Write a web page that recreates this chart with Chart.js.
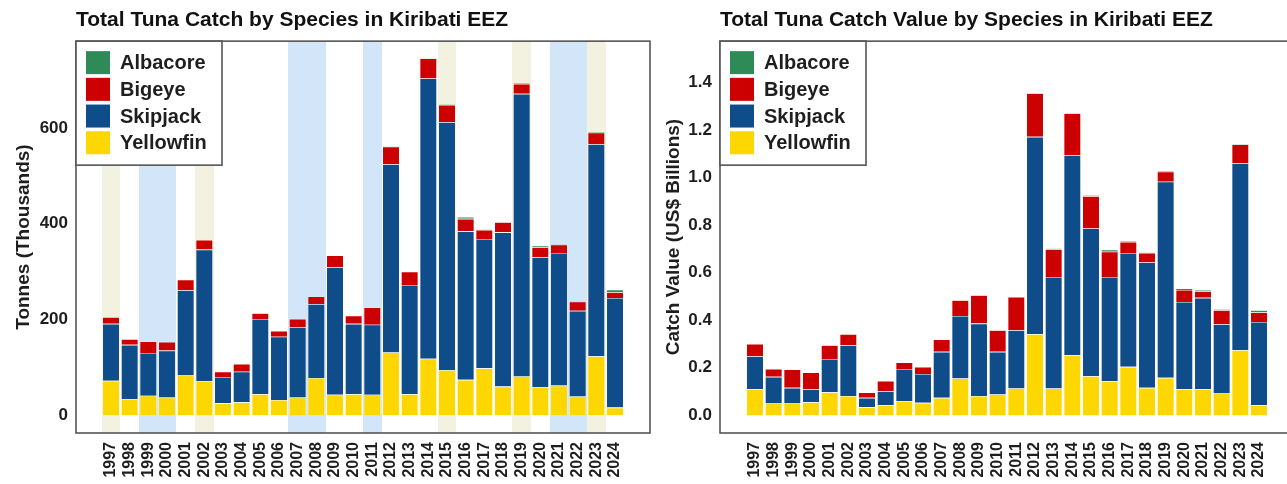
<!DOCTYPE html>
<html>
<head>
<meta charset="utf-8">
<script src="https://cdn.jsdelivr.net/npm/chart.js@4.4.1/dist/chart.umd.min.js"></script>
<style>
  html, body { margin: 0; padding: 0; background: #ffffff; overflow: hidden; width: 1287px; height: 484px; }
  canvas { position: absolute; top: 0; }
  #catchChart { left: 0; }
  #valueChart { left: 644px; }
</style>
</head>
<body>
<canvas id="catchChart" width="660" height="484"></canvas>
<canvas id="valueChart" width="660" height="484"></canvas>
<script>
// ---- data ----
const years = [1997, 1998, 1999, 2000, 2001, 2002, 2003, 2004, 2005, 2006, 2007, 2008, 2009, 2010,
               2011, 2012, 2013, 2014, 2015, 2016, 2017, 2018, 2019, 2020, 2021, 2022, 2023, 2024];

// Catch, thousand tonnes
const catchYellowfin = [72, 34, 41, 37, 83, 71, 25, 27, 44, 32, 37, 78, 43, 44,
                        43, 131, 44, 118, 94, 74, 98, 60, 81, 59, 62, 39, 123, 16];
const catchSkipjack  = [119, 113, 89, 98, 178, 275, 55, 64, 157, 132, 147, 154, 266, 147,
                        146, 393, 228, 585, 518, 310, 270, 322, 590, 271, 277, 179, 443, 229];
const catchBigeye    = [14, 12, 24, 18, 22, 20, 11, 16, 12, 12, 17, 16, 25, 17,
                        36, 37, 28, 42, 36, 26, 19, 21, 21, 21, 17, 19, 24, 12];
const catchAlbacore  = [0, 0, 0, 0, 0, 0, 0, 0, 0, 0, 0, 0, 0, 0,
                        0, 1, 0, 1, 2, 4, 1, 1, 2, 3, 1, 1, 2, 5];

// Catch value, US$ billions
const valueYellowfin = [0.110, 0.050, 0.050, 0.055, 0.097, 0.082, 0.034, 0.043, 0.061, 0.053, 0.074, 0.155, 0.082, 0.088,
                        0.113, 0.342, 0.113, 0.253, 0.165, 0.144, 0.204, 0.116, 0.158, 0.110, 0.110, 0.092, 0.274, 0.043];
const valueSkipjack  = [0.139, 0.112, 0.066, 0.055, 0.140, 0.213, 0.040, 0.059, 0.134, 0.121, 0.193, 0.263, 0.304, 0.179,
                        0.245, 0.829, 0.469, 0.841, 0.621, 0.438, 0.479, 0.527, 0.824, 0.367, 0.384, 0.292, 0.785, 0.350];
const valueBigeye    = [0.051, 0.033, 0.077, 0.071, 0.058, 0.047, 0.023, 0.043, 0.028, 0.030, 0.052, 0.066, 0.119, 0.091,
                        0.140, 0.182, 0.117, 0.175, 0.135, 0.106, 0.046, 0.040, 0.042, 0.050, 0.028, 0.058, 0.080, 0.040];
const valueAlbacore  = [0, 0, 0, 0, 0, 0, 0, 0, 0, 0, 0, 0, 0, 0,
                        0, 0.004, 0.002, 0.003, 0.005, 0.009, 0.003, 0.002, 0.004, 0.007, 0.005, 0.005, 0.004, 0.009];

// Shaded year bands (catch chart only)
const warmPhaseYears = [1997, 2002, 2015, 2019, 2023];
const coolPhaseYears = [1999, 2000, 2007, 2008, 2011, 2021, 2022];

const catchTicks = [0, 200, 400, 600];
const valueTicks = [0, 0.2, 0.4, 0.6, 0.8, 1.0, 1.2, 1.4];

// ---- styling ----
const FONT = "'Liberation Sans', Arial, Helvetica, sans-serif";
const TEXT = '#1e1e1e';
const FRAME = '#555555';
const COLORS = {
  Yellowfin: '#ffd700',
  Skipjack: '#0f4c8a',
  Bigeye: '#cc0000',
  Albacore: '#2e8b57'
};
Chart.defaults.font.family = FONT;
Chart.defaults.color = TEXT;

function series(label, values) {
  return {
    label,
    data: years.map((y, i) => ({ x: y, y: values[i] })),
    backgroundColor: COLORS[label],
    borderColor: 'rgba(255,255,255,0.55)',
    borderWidth: 0.6,
    categoryPercentage: 1.0,
    barPercentage: 0.92
  };
}

// group consecutive years into [first, last] runs
function runsOf(list) {
  const sorted = list.slice().sort((a, b) => a - b);
  const runs = [];
  sorted.forEach(y => {
    const last = runs[runs.length - 1];
    if (last && y === last[1] + 1) last[1] = y;
    else runs.push([y, y]);
  });
  return runs;
}

// background bands behind the bars
function bandsPlugin(bands) {
  return {
    id: 'yearBands',
    beforeDatasetsDraw(chart) {
      const { ctx, chartArea: ca, scales: { x } } = chart;
      ctx.save();
      bands.forEach(b => {
        ctx.fillStyle = b.color;
        runsOf(b.years).forEach(([y0, y1]) => {
          const x0 = Math.round(x.getPixelForValue(y0 - 0.5));
          const x1 = Math.round(x.getPixelForValue(y1 + 0.5));
          ctx.fillRect(x0, ca.top, x1 - x0, ca.bottom - ca.top);
        });
      });
      ctx.restore();
    }
  };
}

// panel frame + boxed legend in the top-left corner
const framePlugin = {
  id: 'panelFrame',
  afterDatasetsDraw(chart) {
    const { ctx, chartArea: ca } = chart;
    ctx.save();
    ctx.strokeStyle = FRAME;
    ctx.lineWidth = 1.6;
    ctx.strokeRect(ca.left, ca.top, ca.right - ca.left, ca.bottom - ca.top);
    ctx.restore();
  },
  afterDraw(chart) {
    const { ctx, chartArea: ca } = chart;
    const lx = ca.left, ly = ca.top, w = 146, h = 124;
    ctx.save();
    ctx.fillStyle = '#ffffff';
    ctx.fillRect(lx, ly, w, h);
    ctx.strokeStyle = FRAME;
    ctx.lineWidth = 1.6;
    ctx.strokeRect(lx, ly, w, h);
    const items = chart.data.datasets.slice().reverse();
    ctx.font = 'bold 20px ' + FONT;
    ctx.textBaseline = 'middle';
    ctx.textAlign = 'left';
    items.forEach((ds, i) => {
      const top = ly + 10 + i * 26.7;
      ctx.fillStyle = ds.backgroundColor;
      ctx.fillRect(lx + 10, top, 24, 23);
      ctx.fillStyle = TEXT;
      ctx.fillText(ds.label, lx + 44, top + 12.5);
    });
    ctx.restore();
  }
};

function makeChart(canvasId, cfg) {
  return new Chart(document.getElementById(canvasId), {
    type: 'bar',
    data: {
      datasets: [
        series('Yellowfin', cfg.yellowfin),
        series('Skipjack', cfg.skipjack),
        series('Bigeye', cfg.bigeye),
        series('Albacore', cfg.albacore)
      ]
    },
    options: {
      responsive: false,
      devicePixelRatio: 1,
      animation: false,
      layout: { padding: { left: 0, right: 10, top: 0, bottom: 0 } },
      plugins: {
        legend: { display: false },
        tooltip: { enabled: false },
        title: {
          display: true,
          text: cfg.title,
          align: 'start',
          fullSize: false,
          color: '#111111',
          font: { size: 21, weight: 'bold', lineHeight: 1.15 },
          padding: { top: 8, bottom: 9 }
        }
      },
      scales: {
        x: {
          type: 'linear',
          stacked: true,
          offset: false,
          min: 1995.125,
          max: 2025.875,
          grid: { display: false, drawTicks: false },
          border: { display: false },
          afterBuildTicks: s => { s.ticks = years.map(v => ({ value: v })); },
          afterFit: s => { s.height = 51; },
          ticks: {
            autoSkip: false,
            minRotation: 90,
            maxRotation: 90,
            padding: 9,
            color: TEXT,
            font: { size: 16, weight: 'bold' },
            callback: v => String(v)
          }
        },
        y: {
          stacked: true,
          min: cfg.yMin,
          max: cfg.yMax,
          grid: { display: false, drawTicks: false },
          border: { display: false },
          afterBuildTicks: s => { s.ticks = cfg.yTicks.map(v => ({ value: v })); },
          afterFit: s => { s.width = 76; },
          ticks: {
            padding: 8,
            color: TEXT,
            font: { size: 17, weight: 'bold' },
            callback: cfg.tickFormat
          },
          title: {
            display: true,
            text: cfg.yTitle,
            color: TEXT,
            font: { size: 19, weight: 'bold' },
            padding: { top: cfg.yTitlePad, bottom: 0 }
          }
        }
      }
    },
    plugins: cfg.extraPlugins.concat([framePlugin])
  });
}

makeChart('catchChart', {
  title: 'Total Tuna Catch by Species in Kiribati EEZ',
  yTitle: 'Tonnes (Thousands)',
  yTitlePad: 12,
  yMin: -37,
  yMax: 781,
  yTicks: catchTicks,
  tickFormat: v => String(v),
  yellowfin: catchYellowfin,
  skipjack: catchSkipjack,
  bigeye: catchBigeye,
  albacore: catchAlbacore,
  extraPlugins: [bandsPlugin([
    { color: '#f3f2e1', years: warmPhaseYears },
    { color: '#d3e5f8', years: coolPhaseYears }
  ])]
});

makeChart('valueChart', {
  title: 'Total Tuna Catch Value by Species in Kiribati EEZ',
  yTitle: 'Catch Value (US$ Billions)',
  yTitlePad: 18,
  yMin: -0.074,
  yMax: 1.573,
  yTicks: valueTicks,
  tickFormat: v => Number(v).toFixed(1),
  yellowfin: valueYellowfin,
  skipjack: valueSkipjack,
  bigeye: valueBigeye,
  albacore: valueAlbacore,
  extraPlugins: []
});
</script>
</body>
</html>
